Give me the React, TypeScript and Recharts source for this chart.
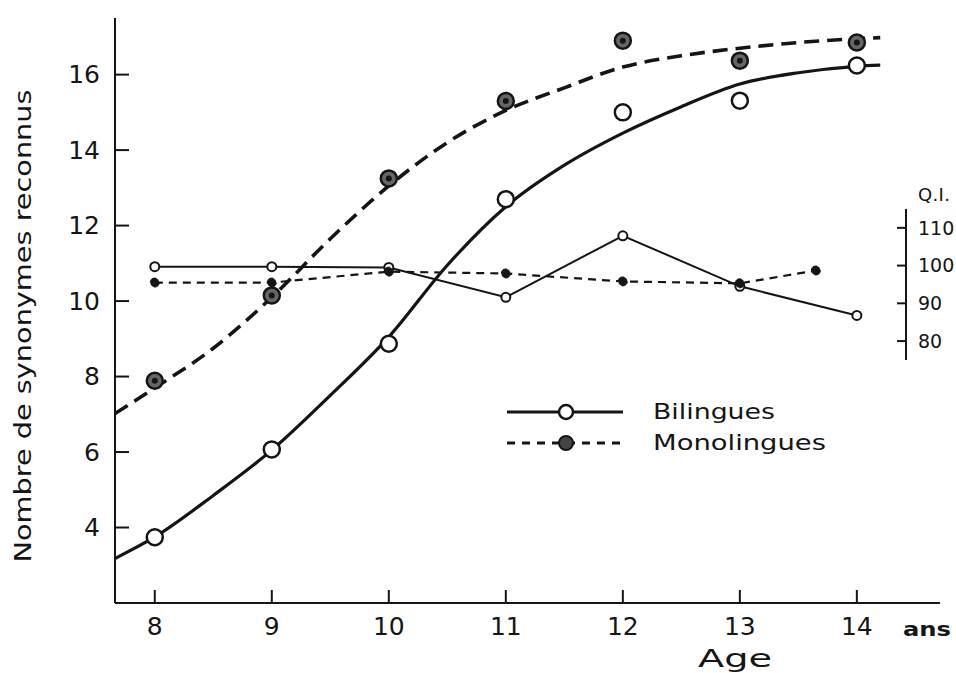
import {
  ComposedChart,
  Label,
  Legend,
  Line,
  ReferenceLine,
  Scatter,
  XAxis,
  YAxis,
} from "recharts";

const ages = [8, 9, 10, 11, 12, 13, 14];
const bilinguesScore = [3.74, 6.07, 8.87, 12.7, 15.0, 15.31, 16.24];
const monolinguesScore = [7.89, 10.15, 13.25, 15.3, 16.9, 16.37, 16.85];

// smoothed curves as drawn in the figure
const curveAges = [7.66, 8, 8.5, 9, 9.5, 10, 10.5, 11, 11.5, 12, 12.5, 13, 13.5, 14, 14.2];
const bilinguesCurve = [3.18, 3.75, 4.85, 6.05, 7.5, 9.05, 10.95, 12.5, 13.6, 14.45, 15.15, 15.75, 16.05, 16.22, 16.25];
const monolinguesCurve = [7.02, 7.7, 8.75, 10.1, 11.65, 13.05, 14.2, 15.05, 15.65, 16.2, 16.5, 16.7, 16.85, 16.95, 16.98];

// Q.I. (right axis)
const bilinguesQI = [99.7, 99.7, 99.5, 91.6, 107.9, 94.5, 86.8];
const monoQIAges = [8, 9, 10, 11, 12, 13, 13.65];
const monolinguesQI = [95.5, 95.5, 98.4, 97.9, 95.8, 95.3, 98.7];

const ageTicks = [8, 9, 10, 11, 12, 13, 14];
const scoreTicks = [4, 6, 8, 10, 12, 14, 16];
const qiTicks = [80, 90, 100, 110];

const toPoints = (xs: number[], ys: number[]) => xs.map((x, i) => ({ x, y: ys[i] }));

const ink = "#151515";
const font = "'DejaVu Sans', sans-serif";

const OpenCircle = (props: any) => (
  <circle cx={props.cx} cy={props.cy} r={8} fill="#fff" stroke={ink} strokeWidth={2.5} />
);

const DarkCircle = (props: any) => (
  <g>
    <circle cx={props.cx} cy={props.cy} r={8} fill="#666" stroke={ink} strokeWidth={2.5} />
    <circle cx={props.cx} cy={props.cy} r={3} fill={ink} />
  </g>
);

function LegendBox() {
  return (
    <svg width={340} height={60} style={{ display: "block" }}>
      <line x1={2} x2={118} y1={14} y2={14} stroke={ink} strokeWidth={3} />
      <circle cx={61} cy={14} r={7} fill="#fff" stroke={ink} strokeWidth={2.5} />
      <text x={148} y={14} dominantBaseline="central" fontFamily={font} fontSize={21} fill={ink} textLength={122} lengthAdjust="spacingAndGlyphs">
        Bilingues
      </text>
      <line x1={2} x2={118} y1={45} y2={45} stroke={ink} strokeWidth={3} strokeDasharray="8 7" />
      <circle cx={61} cy={45} r={7} fill="#444" stroke={ink} strokeWidth={2} />
      <text x={148} y={45} dominantBaseline="central" fontFamily={font} fontSize={21} fill={ink} textLength={173} lengthAdjust="spacingAndGlyphs">
        Monolingues
      </text>
    </svg>
  );
}

export default function App() {
  const bPts = toPoints(ages, bilinguesScore);
  const mPts = toPoints(ages, monolinguesScore);
  const bCurve = toPoints(curveAges, bilinguesCurve);
  const mCurve = toPoints(curveAges, monolinguesCurve);
  const bQI = toPoints(ages, bilinguesQI);
  const mQI = toPoints(monoQIAges, monolinguesQI);

  return (
    <div style={{ position: "absolute", left: 0, top: 0, width: 956, height: 673, background: "#fff" }}>
      <ComposedChart width={956} height={673} margin={{ top: 18, right: 0, bottom: 0, left: 0 }}>
        <XAxis
          dataKey="x"
          type="number"
          domain={[7.66, 14.42]}
          ticks={ageTicks}
          allowDataOverflow
          height={70}
          tickSize={-13}
          tickMargin={27}
          axisLine={{ stroke: ink, strokeWidth: 2 }}
          tickLine={{ stroke: ink, strokeWidth: 2 }}
          tick={{ fill: ink, fontSize: 25, fontFamily: font }}
        >
          <Label
            content={() => (
              <text x={903} y={636} fontFamily={font} fontSize={20} fontWeight="bold" fill={ink} textLength={48} lengthAdjust="spacingAndGlyphs">
                ans
              </text>
            )}
          />
          <Label
            content={() => (
              <text x={698} y={667} fontFamily={font} fontSize={24} fill={ink} textLength={74} lengthAdjust="spacingAndGlyphs">
                Age
              </text>
            )}
          />
        </XAxis>
        <YAxis
          yAxisId="n"
          dataKey="y"
          type="number"
          domain={[2, 17.5]}
          ticks={scoreTicks}
          allowDataOverflow
          width={115}
          tickSize={-14}
          tickMargin={29}
          axisLine={{ stroke: ink, strokeWidth: 2 }}
          tickLine={{ stroke: ink, strokeWidth: 2 }}
          tick={{ fill: ink, fontSize: 25, fontFamily: font }}
        >
          <Label
            content={() => (
              <text
                x={23}
                y={326}
                transform="rotate(-90 23 326)"
                textAnchor="middle"
                dominantBaseline="central"
                fontFamily={font}
                fontSize={23}
                fill={ink}
                textLength={473}
                lengthAdjust="spacingAndGlyphs"
              >
                Nombre de synonymes reconnus
              </text>
            )}
          />
        </YAxis>
        <YAxis
          yAxisId="qi"
          orientation="right"
          dataKey="y"
          type="number"
          domain={[10.6, 165.6]}
          ticks={qiTicks}
          allowDataOverflow
          width={50}
          tickSize={-9}
          tickMargin={21}
          axisLine={false}
          tickLine={{ stroke: ink, strokeWidth: 2 }}
          tick={{ fill: ink, fontSize: 19, fontFamily: font, textAnchor: "start" }}
        >
          <Label
            content={() => (
              <text x={918} y={201} fontFamily={font} fontSize={18} fill={ink} textLength={32} lengthAdjust="spacing">
                Q.I.
              </text>
            )}
          />
        </YAxis>

        <ReferenceLine
          yAxisId="n"
          segment={[{ x: 14.42, y: 2 }, { x: 14.71, y: 2 }]}
          ifOverflow="visible"
          stroke={ink}
          strokeWidth={2}
        />
        <ReferenceLine
          yAxisId="qi"
          segment={[{ x: 14.42, y: 75 }, { x: 14.42, y: 115 }]}
          ifOverflow="visible"
          stroke={ink}
          strokeWidth={2}
        />

        <Line yAxisId="qi" data={bQI} dataKey="y" type="linear" stroke={ink} strokeWidth={2} dot={{ r: 4.5, fill: "#fff", stroke: ink, strokeWidth: 2 }} isAnimationActive={false} />
        <Line yAxisId="qi" data={mQI} dataKey="y" type="linear" stroke={ink} strokeWidth={2.2} strokeDasharray="8 6" dot={{ r: 4.5, fill: ink, stroke: ink, strokeWidth: 1 }} isAnimationActive={false} />

        <Line yAxisId="n" data={bCurve} dataKey="y" type="monotone" stroke={ink} strokeWidth={3.2} dot={false} isAnimationActive={false} />
        <Line yAxisId="n" data={mCurve} dataKey="y" type="monotone" stroke={ink} strokeWidth={3.6} strokeDasharray="15 8" dot={false} isAnimationActive={false} />

        <Scatter yAxisId="n" data={bPts} dataKey="y" shape={OpenCircle} isAnimationActive={false} />
        <Scatter yAxisId="n" data={mPts} dataKey="y" shape={DarkCircle} isAnimationActive={false} />

        <Legend
          layout="horizontal"
          verticalAlign="middle"
          align="center"
          content={() => <LegendBox />}
          wrapperStyle={{ left: 505, top: 398, width: 340, height: 60 }}
        />
      </ComposedChart>
    </div>
  );
}
